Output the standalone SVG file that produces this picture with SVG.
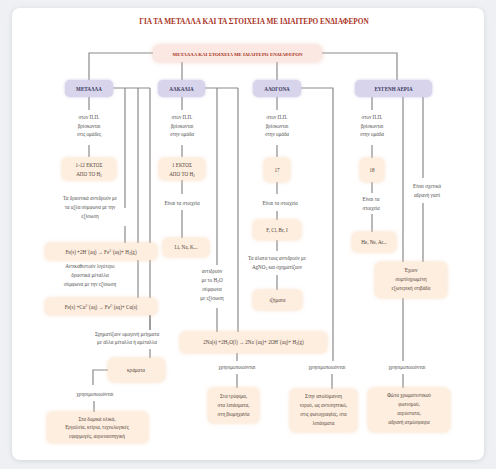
<svg xmlns="http://www.w3.org/2000/svg" width="496" height="469" viewBox="0 0 496 469">
<defs>
<filter id="shadow" x="-5%" y="-5%" width="110%" height="110%"><feDropShadow dx="0" dy="1" stdDeviation="2.5" flood-color="#9aa0ad" flood-opacity="0.35"/></filter>
<filter id="gp" x="-30%" y="-40%" width="160%" height="180%"><feDropShadow dx="0" dy="0" stdDeviation="2.2" flood-color="#f4cfae" flood-opacity="0.7"/></filter>
<filter id="gl" x="-30%" y="-40%" width="160%" height="180%"><feDropShadow dx="0" dy="0" stdDeviation="1.8" flood-color="#c2bde0" flood-opacity="0.8"/></filter>
<filter id="gr" x="-20%" y="-60%" width="140%" height="220%"><feDropShadow dx="0" dy="0" stdDeviation="2.5" flood-color="#eebcb0" flood-opacity="0.7"/></filter>
</defs>
<style>
text{font-family:"Liberation Serif","DejaVu Serif",serif;text-anchor:middle}
.t{font-size:5.1px;fill:#4d4d4d}
.c{font-size:5.1px;font-weight:bold;fill:#3a3a62}
.b{font-size:5.1px;fill:#54443a}
.p{fill:#fdeedf;filter:url(#gp)}
.l{fill:#d8d4eb;filter:url(#gl)}
.ln{stroke:#8a8a8a;stroke-width:1.2;fill:none}
</style>
<rect width="496" height="469" fill="#eef0f3"/>
<rect x="12" y="8" width="472" height="452" rx="8" fill="#ffffff" filter="url(#shadow)"/>
<text x="254" y="24" style="font-size:7.3px;font-weight:bold;fill:#a9341f">ΓΙΑ ΤΑ ΜΕΤΑΛΛΑ ΚΑΙ ΤΑ ΣΤΟΙΧΕΙΑ ΜΕ ΙΔΙΑΙΤΕΡΟ ΕΝΔΙΑΦΕΡΟΝ</text>

<g id="connectors">
<path class="ln" d="M153 53H89V80M322 53H397V80M182 62V80M277 62V80"/>
<path class="ln" d="M113 88H150M125 88V208M138 88V298M150 88V330M125 226V243M89 97V110M89 145V157"/>
<path class="ln" d="M150 315V330M150 349V358M108 370H93V385M94 401V412"/>
<path class="ln" d="M205 88H238M217 88V265M238 88V332M182 97V110M182 145V157M182 180V194M182 210V238M217 308V332M237 353V361M237 374V388"/>
<path class="ln" d="M301 88H333V361M277 97V110M277 145V157M277 182V194M277 211V220M277 240V251M277 275V290M332 374V389"/>
<path class="ln" d="M372 97V110M372 145V158M372 182V193M372 214V232M403 97V262M423 97V178M423 203V262M403 298V361M403 374V388"/>
</g>

<g id="top"><rect x="153" y="45" width="169" height="17" rx="6" fill="#fbe8e2" filter="url(#gr)"/><text x="237.5" y="55.5" style="font-size:4.9px;font-weight:bold;fill:#a9341f">ΜΕΤΑΛΛΑ ΚΑΙ ΣΤΟΙΧΕΙΑ ΜΕ ΙΔΙΑΙΤΕΡΟ ΕΝΔΙΑΦΕΡΟΝ</text></g>

<g id="metalla"><rect class="l" x="65" y="80" width="48" height="17" rx="5"/><text class="c" x="89" y="90.5">ΜΕΤΑΛΛΑ</text></g>
<g id="alkalia"><rect class="l" x="158" y="80" width="47" height="17" rx="5"/><text class="c" x="181.5" y="90.5">ΑΛΚΑΛΙΑ</text></g>
<g id="alogona"><rect class="l" x="253" y="80" width="48" height="17" rx="5"/><text class="c" x="277" y="90.5">ΑΛΟΓΟΝΑ</text></g>
<g id="eugenh"><rect class="l" x="355" y="80" width="77" height="17" rx="5"/><text class="c" x="393.5" y="90.5">ΕΥΓΕΝΗ ΑΕΡΙΑ</text></g>

<g id="m-l1"><text class="t" x="89" y="119">στον Π.Π.</text><text class="t" x="89" y="127.5">βρίσκονται</text><text class="t" x="89" y="136">στις ομάδες</text></g>
<g id="m-b1"><rect class="p" x="62" y="158" width="54" height="22" rx="5"/><text class="b" x="89" y="167">1-12 ΕΚΤΟΣ</text><text class="b" x="89" y="175.5">ΑΠΟ ΤΟ Η<tspan font-size="3.5" dy="1">2</tspan></text></g>
<g id="m-l2"><text class="t" x="90" y="200">Τα δραστικά αντιδρούν με</text><text class="t" x="90" y="209">τα οξέα σύμφωνα με την</text><text class="t" x="90" y="218">εξίσωση</text></g>
<g id="m-b2"><rect class="p" x="45" y="243" width="112" height="17" rx="5"/><text class="b" x="101" y="253.5">Fe(s) +2H<tspan font-size="3.5" dy="-1.8">+</tspan><tspan dy="1.8">(aq) → Fe</tspan><tspan font-size="3.5" dy="-1.8">2+</tspan><tspan dy="1.8">(aq)+ H</tspan><tspan font-size="3.5" dy="1">2</tspan><tspan dy="-1">(g)</tspan></text></g>
<g id="m-l3"><text class="t" x="90" y="268">Αντικαθιστούν λιγότερο</text><text class="t" x="90" y="277">δραστικά μέταλλα</text><text class="t" x="90" y="286">σύμφωνα με την εξίσωση</text></g>
<g id="m-b3"><rect class="p" x="45" y="298" width="112" height="17" rx="5"/><text class="b" x="101" y="308.5">Fe(s) +Cu<tspan font-size="3.5" dy="-1.8">2+</tspan><tspan dy="1.8">(aq) → Fe</tspan><tspan font-size="3.5" dy="-1.8">2+</tspan><tspan dy="1.8">(aq)+ Cu(s)</tspan></text></g>
<g id="m-l4"><text class="t" x="127" y="336">Σχηματίζουν ομογενή μείγματα</text><text class="t" x="127" y="344">με άλλα μέταλλα ή αμέταλλα</text></g>
<g id="m-b4"><rect class="p" x="108" y="358" width="57" height="24" rx="6"/><text class="b" x="136" y="371.5">κράματα</text></g>
<g id="m-l5"><text class="t" x="95" y="396">χρησιμοποιούνται</text></g>
<g id="m-b5"><rect class="p" x="47" y="412" width="101" height="31" rx="5"/><text class="b" x="97" y="420.5">Στα δομικά υλικά,</text><text class="b" x="97" y="429">Εργαλεία, κτίρια, τεχνολογικές</text><text class="b" x="97" y="437.5">εφαρμογές, αεροναυπηγική</text></g>

<g id="a-l1"><text class="t" x="182" y="119">στον Π.Π.</text><text class="t" x="182" y="127.5">βρίσκονται</text><text class="t" x="182" y="136">στην ομάδα</text></g>
<g id="a-b1"><rect class="p" x="159" y="158" width="46" height="22" rx="5"/><text class="b" x="182" y="167">1 ΕΚΤΟΣ</text><text class="b" x="182" y="175.5">ΑΠΟ ΤΟ Η<tspan font-size="3.5" dy="1">2</tspan></text></g>
<g id="a-l2"><text class="t" x="182" y="205">Είναι τα στοιχεία</text></g>
<g id="a-b2"><rect class="p" x="163" y="238" width="46" height="19" rx="5"/><text class="b" x="186" y="249">Li, Na, K...</text></g>
<g id="a-l3"><text class="t" x="212" y="273">αντιδρούν</text><text class="t" x="212" y="282">με το Η<tspan font-size="3.5" dy="1">2</tspan><tspan dy="-1">Ο</tspan></text><text class="t" x="212" y="291">σύμφωνα</text><text class="t" x="212" y="300">με εξίσωση</text></g>
<g id="a-b3"><rect class="p" x="180" y="332" width="147" height="21" rx="5"/><text class="b" x="253.5" y="344">2Na(s) +2H<tspan font-size="3.5" dy="1">2</tspan><tspan dy="-1">O(l) → 2Na</tspan><tspan font-size="3.5" dy="-1.8">+</tspan><tspan dy="1.8">(aq)+ 2OH</tspan><tspan font-size="3.5" dy="-1.8">−</tspan><tspan dy="1.8">(aq)+ H</tspan><tspan font-size="3.5" dy="1">2</tspan><tspan dy="-1">(g)</tspan></text></g>
<g id="a-l4"><text class="t" x="237" y="369">χρησιμοποιούνται</text></g>
<g id="a-b4"><rect class="p" x="208" y="388" width="51" height="35" rx="5"/><text class="b" x="233.5" y="398">Στα τρόφιμα,</text><text class="b" x="233.5" y="407">στα λιπάσματα,</text><text class="b" x="233.5" y="416">στη βιομηχανία</text></g>

<g id="h-l1"><text class="t" x="277" y="119">στον Π.Π.</text><text class="t" x="277" y="127.5">βρίσκονται</text><text class="t" x="277" y="136">στην ομάδα</text></g>
<g id="h-b1"><rect class="p" x="264" y="158" width="26" height="24" rx="5"/><text class="b" x="277" y="171.5">17</text></g>
<g id="h-l2"><text class="t" x="280" y="205">Είναι τα στοιχεία</text></g>
<g id="h-b2"><rect class="p" x="253" y="220" width="48" height="20" rx="5"/><text class="b" x="277" y="231.5">F, Cl, Br, I</text></g>
<g id="h-l3"><text class="t" x="277" y="260">Τα άλατα τους αντιδρούν με</text><text class="t" x="277" y="269">AgNO<tspan font-size="3.5" dy="1">3</tspan><tspan dy="-1"> και σχηματίζουν</tspan></text></g>
<g id="h-b3"><rect class="p" x="253" y="290" width="49" height="20" rx="5"/><text class="b" x="277.5" y="301.5">ιζήματα</text></g>
<g id="h-l4"><text class="t" x="327" y="369">χρησιμοποιούνται</text></g>
<g id="h-b4"><rect class="p" x="290" y="389" width="67" height="43" rx="5"/><text class="b" x="323.5" y="398">Στην απολύμανση</text><text class="b" x="323.5" y="407">νερού, ως αντισηπτικό,</text><text class="b" x="323.5" y="416">στις φωτογραφίες, στα</text><text class="b" x="323.5" y="425">λιπάσματα</text></g>

<g id="e-l1"><text class="t" x="372" y="119">στον Π.Π.</text><text class="t" x="372" y="127.5">βρίσκονται</text><text class="t" x="372" y="136">στην ομάδα</text></g>
<g id="e-b1"><rect class="p" x="360" y="158" width="24" height="24" rx="5"/><text class="b" x="372" y="171.5">18</text></g>
<g id="e-l2"><text class="t" x="371" y="201">Είναι τα</text><text class="t" x="371" y="210">στοιχεία</text></g>
<g id="e-b2"><rect class="p" x="352" y="232" width="44" height="20" rx="5"/><text class="b" x="374" y="243.5">He, Ne, Ar...</text></g>
<g id="e-l3"><text class="t" x="427" y="188">Είναι σχετικά</text><text class="t" x="427" y="197">αδρανή γιατί</text></g>
<g id="e-b3"><rect class="p" x="375" y="262" width="72" height="36" rx="6"/><text class="b" x="411" y="271.5">Έχουν</text><text class="b" x="411" y="280.5">συμπληρωμένη</text><text class="b" x="411" y="289.5">εξωτερική στιβάδα</text></g>
<g id="e-l4"><text class="t" x="407" y="369">χρησιμοποιούνται</text></g>
<g id="e-b4"><rect class="p" x="368" y="388" width="82" height="44" rx="6"/><text class="b" x="409" y="397">Φώτα χρωματιστικού</text><text class="b" x="409" y="406">φωτισμού,</text><text class="b" x="409" y="415">αερόστατα,</text><text class="b" x="409" y="424">αδρανή ατμόσφαιρα</text></g>
</svg>
